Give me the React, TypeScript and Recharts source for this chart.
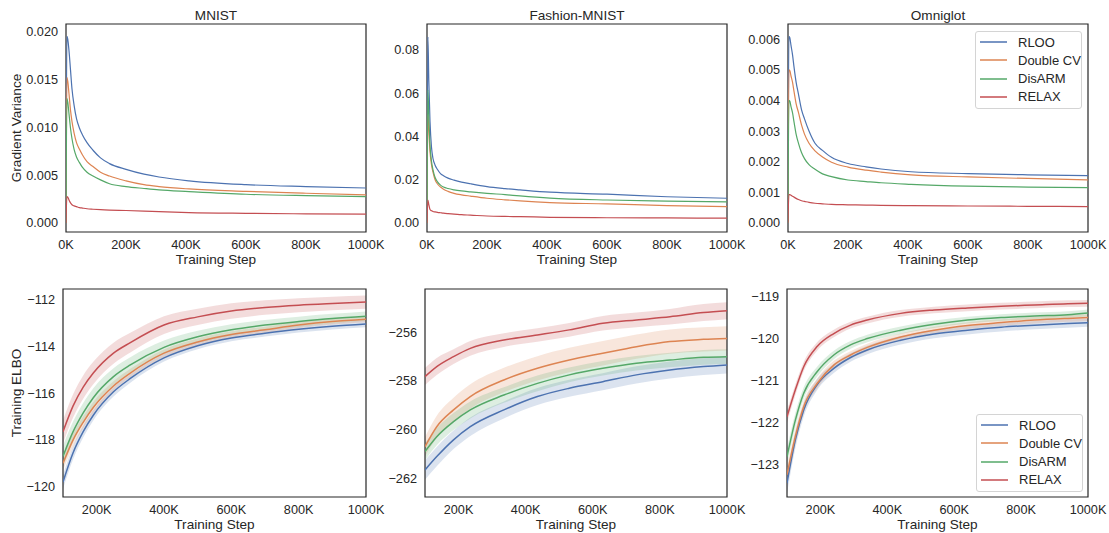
import React from "react";
import { ComposedChart, Line, Area, XAxis, YAxis, ReferenceArea, Legend, Label } from "recharts";

const FONT = '"Liberation Sans", Arial, sans-serif';
const INK = "#262626";

const SERIES = [
  { key: "rloo", name: "RLOO", color: "#4C72B0" },
  { key: "dcv", name: "Double CV", color: "#DD8452" },
  { key: "disarm", name: "DisARM", color: "#55A868" },
  { key: "relax", name: "RELAX", color: "#C44E52" },
];

// ---- gradient variance (top row) ----
const varSteps = [0, 3000, 6000, 10000, 15000, 20000, 27000, 35000, 45000, 55000, 70000, 90000, 115000, 145000, 200000, 260000, 310000, 410000, 600000, 800000, 1000000];

const mnistVarRloo = [0, 0.0195, 0.0192, 0.018, 0.016, 0.014, 0.0123, 0.0109, 0.0099, 0.0092, 0.0084, 0.0076, 0.0068, 0.0062, 0.0056, 0.0051, 0.0048, 0.0044, 0.004, 0.0038, 0.00365];
const mnistVarDcv = [0, 0.0152, 0.0148, 0.0135, 0.0118, 0.0106, 0.0094, 0.0084, 0.0077, 0.0071, 0.0064, 0.0059, 0.0053, 0.0049, 0.0044, 0.004, 0.0038, 0.00355, 0.0033, 0.0031, 0.00293];
const mnistVarDisarm = [0, 0.013, 0.0126, 0.0114, 0.0099, 0.0088, 0.0077, 0.0069, 0.0063, 0.0058, 0.0053, 0.0049, 0.0045, 0.0041, 0.0038, 0.0036, 0.00345, 0.00328, 0.003, 0.00285, 0.00275];
const mnistVarRelax = [0, 0.00275, 0.0027, 0.0024, 0.0021, 0.0019, 0.00178, 0.0017, 0.0016, 0.00155, 0.00148, 0.00143, 0.00138, 0.00134, 0.0013, 0.00124, 0.00118, 0.00108, 0.001, 0.00095, 0.00091];

const fashionVarRloo = [0, 0.086, 0.066, 0.047, 0.035, 0.0298, 0.0267, 0.0247, 0.0228, 0.0218, 0.0207, 0.0198, 0.0189, 0.0181, 0.0168, 0.0159, 0.0153, 0.0142, 0.0133, 0.0121, 0.0114];
const fashionVarDcv = [0, 0.05, 0.043, 0.033, 0.027, 0.0235, 0.02, 0.018, 0.0166, 0.0156, 0.0146, 0.0137, 0.013, 0.0124, 0.0114, 0.0107, 0.0102, 0.0094, 0.0088, 0.008, 0.0075];
const fashionVarDisarm = [0, 0.0615, 0.05, 0.036, 0.0285, 0.0245, 0.021, 0.019, 0.0175, 0.0166, 0.0159, 0.0153, 0.0148, 0.0144, 0.0137, 0.0131, 0.0125, 0.0115, 0.0106, 0.0101, 0.0097];
const fashionVarRelax = [0, 0.0106, 0.0085, 0.0062, 0.0056, 0.0053, 0.0051, 0.0049, 0.0047, 0.0045, 0.0043, 0.0041, 0.0038, 0.0036, 0.0032, 0.003, 0.0029, 0.0026, 0.0024, 0.0023, 0.0022];

const omniVarRloo = [0, 0.0061, 0.00605, 0.0058, 0.0055, 0.0051, 0.0046, 0.0042, 0.0037, 0.0034, 0.003, 0.0026, 0.00237, 0.00214, 0.00194, 0.00183, 0.00176, 0.00167, 0.00161, 0.00157, 0.00154];
const omniVarDcv = [0, 0.005, 0.00498, 0.0048, 0.0046, 0.0043, 0.0039, 0.0036, 0.0032, 0.0029, 0.0026, 0.00235, 0.00215, 0.00198, 0.00182, 0.00172, 0.00166, 0.00157, 0.0015, 0.00145, 0.0014];
const omniVarDisarm = [0, 0.004, 0.00398, 0.0038, 0.0036, 0.0033, 0.0029, 0.0026, 0.0023, 0.0021, 0.0019, 0.00175, 0.0016, 0.00151, 0.0014, 0.00135, 0.00131, 0.00126, 0.0012, 0.00117, 0.00115];
const omniVarRelax = [0, 0.00092, 0.00092, 0.0009, 0.00087, 0.00084, 0.0008, 0.00076, 0.00072, 0.0007, 0.00067, 0.00064, 0.00062, 0.0006, 0.00059, 0.00058, 0.00057, 0.00056, 0.00055, 0.00054, 0.00053];

// ---- training ELBO (bottom row) ----
const mnistElboSteps = [100000, 130000, 160000, 190000, 250000, 300000, 400000, 500000, 600000, 700000, 800000, 900000, 1000000];
const mnistElboRloo = [-119.8, -118.55, -117.65, -116.95, -115.95, -115.38, -114.5, -113.98, -113.65, -113.45, -113.28, -113.15, -113.05];
const mnistElboDcv = [-119.0, -118.0, -117.25, -116.62, -115.7, -115.15, -114.3, -113.82, -113.5, -113.3, -113.1, -112.95, -112.85];
const mnistElboDisarm = [-118.7, -117.65, -116.85, -116.2, -115.3, -114.8, -114.05, -113.6, -113.3, -113.1, -112.95, -112.82, -112.72];
const mnistElboRelax = [-117.65, -116.55, -115.75, -115.15, -114.3, -113.85, -113.1, -112.75, -112.5, -112.35, -112.25, -112.18, -112.12];
const mnistSpreadRloo = [0.3, 0.28, 0.25, 0.22, 0.2, 0.18, 0.16, 0.15, 0.14, 0.14, 0.14, 0.14, 0.14];
const mnistSpreadDcv = [0.3, 0.28, 0.26, 0.24, 0.2, 0.18, 0.16, 0.15, 0.14, 0.13, 0.13, 0.13, 0.13];
const mnistSpreadDisarm = [0.45, 0.43, 0.42, 0.4, 0.36, 0.33, 0.29, 0.26, 0.24, 0.22, 0.21, 0.2, 0.2];
const mnistSpreadRelax = [0.5, 0.5, 0.5, 0.48, 0.45, 0.42, 0.38, 0.35, 0.33, 0.31, 0.3, 0.29, 0.28];

const fashionElboSteps = [100000, 135000, 185000, 235000, 335000, 435000, 530000, 630000, 730000, 830000, 930000, 1000000];
const fashionElboRloo = [-261.66, -261.11, -260.42, -259.88, -259.19, -258.64, -258.3, -258.03, -257.75, -257.55, -257.41, -257.34];
const fashionElboDcv = [-260.7, -259.88, -259.19, -258.64, -257.96, -257.48, -257.14, -256.86, -256.59, -256.38, -256.29, -256.25];
const fashionElboDisarm = [-260.9, -260.29, -259.67, -259.19, -258.58, -258.1, -257.75, -257.48, -257.27, -257.14, -257.03, -257.0];
const fashionElboRelax = [-257.82, -257.41, -257.0, -256.66, -256.32, -256.11, -255.9, -255.63, -255.49, -255.36, -255.19, -255.11];
const fashionSpreadRloo = [0.4, 0.4, 0.38, 0.38, 0.35, 0.35, 0.35, 0.35, 0.35, 0.35, 0.35, 0.35];
const fashionSpreadDcv = [0.4, 0.45, 0.5, 0.5, 0.5, 0.5, 0.5, 0.5, 0.5, 0.5, 0.5, 0.5];
const fashionSpreadDisarm = [0.35, 0.35, 0.35, 0.35, 0.32, 0.32, 0.3, 0.3, 0.3, 0.3, 0.3, 0.3];
const fashionSpreadRelax = [0.35, 0.35, 0.3, 0.3, 0.28, 0.28, 0.28, 0.3, 0.3, 0.32, 0.35, 0.35];

const omniElboSteps = [100000, 125000, 150000, 190000, 240000, 290000, 340000, 440000, 540000, 640000, 740000, 840000, 940000, 1000000];
const omniElboRloo = [-123.45, -122.42, -121.71, -121.11, -120.72, -120.46, -120.28, -120.05, -119.9, -119.81, -119.74, -119.69, -119.65, -119.63];
const omniElboDcv = [-123.25, -122.34, -121.63, -121.08, -120.64, -120.4, -120.22, -119.97, -119.81, -119.7, -119.63, -119.57, -119.53, -119.51];
const omniElboDisarm = [-122.82, -121.95, -121.31, -120.8, -120.4, -120.16, -120.01, -119.81, -119.67, -119.57, -119.51, -119.47, -119.44, -119.4];
const omniElboRelax = [-121.87, -121.23, -120.68, -120.2, -119.89, -119.69, -119.57, -119.41, -119.33, -119.28, -119.24, -119.21, -119.18, -119.17];
const omniSpreadRloo = [0.25, 0.2, 0.16, 0.13, 0.11, 0.1, 0.1, 0.1, 0.1, 0.1, 0.1, 0.1, 0.1, 0.1];
const omniSpreadDcv = [0.2, 0.17, 0.14, 0.12, 0.1, 0.09, 0.09, 0.08, 0.08, 0.08, 0.08, 0.08, 0.08, 0.08];
const omniSpreadDisarm = [0.2, 0.17, 0.14, 0.12, 0.1, 0.09, 0.09, 0.09, 0.09, 0.08, 0.08, 0.08, 0.08, 0.08];
const omniSpreadRelax = [0.15, 0.13, 0.11, 0.1, 0.09, 0.08, 0.08, 0.08, 0.08, 0.08, 0.08, 0.08, 0.08, 0.08];

// axis ticks
const varXTicks = [0, 200000, 400000, 600000, 800000, 1000000];
const elboXTicks = [200000, 400000, 600000, 800000, 1000000];
const mnistVarTicks = [0, 0.005, 0.01, 0.015, 0.02];
const fashionVarTicks = [0, 0.02, 0.04, 0.06, 0.08];
const omniVarTicks = [0, 0.001, 0.002, 0.003, 0.004, 0.005, 0.006];
const mnistElboTicks = [-120, -118, -116, -114, -112];
const fashionElboTicks = [-262, -260, -258, -256];
const omniElboTicks = [-123, -122, -121, -120, -119];

type Vals = Record<string, number[]>;

function buildRows(steps: number[], vals: Vals, spread?: Vals) {
  return steps.map((step, i) => {
    const row: any = { step };
    SERIES.forEach((s) => {
      const v = vals[s.key][i];
      row[s.key] = v;
      if (spread) row[s.key + "Band"] = [v - spread[s.key][i], v + spread[s.key][i]];
    });
    return row;
  });
}

const fmtK = (v: number) => `${Math.round(v / 1000)}K`;
const fmtMinus = (v: number) => (v < 0 ? `\u2212${Math.abs(v)}` : `${v}`);

function LegendBox() {
  return (
    <div
      style={{
        position: "relative",
        zIndex: 5,
        border: "1px solid #d4d4d4",
        borderRadius: 3,
        background: "#fff",
        padding: "1px 0 2px 0",
        width: 107,
        boxSizing: "border-box",
        fontFamily: FONT,
      }}
    >
      {SERIES.map((s) => (
        <div key={s.key} style={{ display: "flex", alignItems: "center", height: 18.25 }}>
          <svg width={27} height={6} style={{ marginLeft: 4, marginRight: 11, flex: "none", display: "block" }}>
            <line x1={0} y1={3} x2={27} y2={3} stroke={s.color} strokeWidth={1.5} />
          </svg>
          <span style={{ fontSize: 13, color: INK, lineHeight: 1 }}>{s.name}</span>
        </div>
      ))}
    </div>
  );
}

interface PanelProps {
  plotLeft: number;
  plotTop: number;
  plotW: number;
  yw: number;
  rows: any[];
  xDomain: [number, number];
  xTicks: number[];
  yDomain: [number, number];
  yTicks: number[];
  yFmt: (v: number) => string;
  yLabel?: string;
  title?: string;
  legendAt?: { left: number; top: number };
  bands?: boolean;
}

const PLOT_H = 208;
const M_TOP = 30;
const M_RIGHT = 25;
const X_H = 35;

function Panel(p: PanelProps) {
  const width = p.yw + p.plotW + M_RIGHT;
  const height = M_TOP + PLOT_H + X_H;
  const lw = p.bands ? 1.5 : 1.2;
  return (
    <>
      {p.title && (
        <div
          style={{
            position: "absolute",
            left: p.plotLeft,
            width: p.plotW,
            top: 9,
            textAlign: "center",
            fontSize: 13.6,
            lineHeight: 1,
            color: INK,
          }}
        >
          {p.title}
        </div>
      )}
      <div style={{ position: "absolute", left: p.plotLeft - p.yw, top: p.plotTop - M_TOP }}>
        <ComposedChart width={width} height={height} data={p.rows} margin={{ top: M_TOP, right: M_RIGHT, bottom: 0, left: 0 }}>
          <XAxis
            dataKey="step"
            type="number"
            domain={p.xDomain}
            ticks={p.xTicks}
            interval={0}
            allowDataOverflow
            axisLine={false}
            tickLine={false}
            height={X_H}
            tick={{ fontSize: 12.7, fill: INK }}
            tickFormatter={fmtK}
          >
            <Label value="Training Step" position="insideBottom" offset={3} fontSize={13.6} fill={INK} />
          </XAxis>
          <YAxis
            type="number"
            domain={p.yDomain}
            ticks={p.yTicks}
            interval={0}
            allowDataOverflow
            axisLine={false}
            tickLine={false}
            width={p.yw}
            tick={{ fontSize: 12.7, fill: INK }}
            tickFormatter={p.yFmt}
          >
            {p.yLabel && <Label value={p.yLabel} angle={-90} position="center" fontSize={13.6} fill={INK} />}
          </YAxis>
          {p.bands &&
            SERIES.map((s) => (
              <Area
                key={s.key + "Band"}
                dataKey={s.key + "Band"}
                type="monotone"
                stroke="none"
                fill={s.color}
                fillOpacity={0.2}
                isAnimationActive={false}
                legendType="none"
              />
            ))}
          {SERIES.map((s) => (
            <Line
              key={s.key}
              dataKey={s.key}
              name={s.name}
              type="monotone"
              stroke={s.color}
              strokeWidth={lw}
              dot={false}
              isAnimationActive={false}
            />
          ))}
          <ReferenceArea
            x1={p.xDomain[0]}
            x2={p.xDomain[1]}
            y1={p.yDomain[0]}
            y2={p.yDomain[1]}
            fill="none"
            fillOpacity={0}
            stroke={INK}
            strokeWidth={1.2}
            ifOverflow="visible"
          />
          {p.legendAt && (
            <Legend
              layout="horizontal"
              align="center"
              verticalAlign="middle"
              wrapperStyle={{
                left: p.legendAt.left - (p.plotLeft - p.yw),
                top: p.legendAt.top - (p.plotTop - M_TOP),
                width: 107,
                zIndex: 5,
              }}
              content={() => <LegendBox />}
            />
          )}
        </ComposedChart>
      </div>
    </>
  );
}

const mnistVarRows = buildRows(varSteps, { rloo: mnistVarRloo, dcv: mnistVarDcv, disarm: mnistVarDisarm, relax: mnistVarRelax });
const fashionVarRows = buildRows(varSteps, { rloo: fashionVarRloo, dcv: fashionVarDcv, disarm: fashionVarDisarm, relax: fashionVarRelax });
const omniVarRows = buildRows(varSteps, { rloo: omniVarRloo, dcv: omniVarDcv, disarm: omniVarDisarm, relax: omniVarRelax });

const mnistElboRows = buildRows(
  mnistElboSteps,
  { rloo: mnistElboRloo, dcv: mnistElboDcv, disarm: mnistElboDisarm, relax: mnistElboRelax },
  { rloo: mnistSpreadRloo, dcv: mnistSpreadDcv, disarm: mnistSpreadDisarm, relax: mnistSpreadRelax }
);
const fashionElboRows = buildRows(
  fashionElboSteps,
  { rloo: fashionElboRloo, dcv: fashionElboDcv, disarm: fashionElboDisarm, relax: fashionElboRelax },
  { rloo: fashionSpreadRloo, dcv: fashionSpreadDcv, disarm: fashionSpreadDisarm, relax: fashionSpreadRelax }
);
const omniElboRows = buildRows(
  omniElboSteps,
  { rloo: omniElboRloo, dcv: omniElboDcv, disarm: omniElboDisarm, relax: omniElboRelax },
  { rloo: omniSpreadRloo, dcv: omniSpreadDcv, disarm: omniSpreadDisarm, relax: omniSpreadRelax }
);

export default function App() {
  return (
    <div style={{ position: "absolute", left: 0, top: 0, width: 1109, height: 533, fontFamily: FONT, background: "#fff" }}>
      <Panel
        title="MNIST"
        plotLeft={66}
        plotTop={24}
        plotW={300}
        yw={99}
        rows={mnistVarRows}
        xDomain={[0, 1000000]}
        xTicks={varXTicks}
        yDomain={[-0.00095, 0.0208]}
        yTicks={mnistVarTicks}
        yFmt={(v) => v.toFixed(3)}
        yLabel="Gradient Variance"
      />
      <Panel
        title="Fashion-MNIST"
        plotLeft={427}
        plotTop={24}
        plotW={300}
        yw={60}
        rows={fashionVarRows}
        xDomain={[0, 1000000]}
        xTicks={varXTicks}
        yDomain={[-0.0042, 0.092]}
        yTicks={fashionVarTicks}
        yFmt={(v) => v.toFixed(2)}
      />
      <Panel
        title="Omniglot"
        plotLeft={788}
        plotTop={24}
        plotW={300}
        yw={60}
        rows={omniVarRows}
        xDomain={[0, 1000000]}
        xTicks={varXTicks}
        yDomain={[-0.0003, 0.0065]}
        yTicks={omniVarTicks}
        yFmt={(v) => v.toFixed(3)}
        legendAt={{ left: 975, top: 31 }}
      />
      <Panel
        plotLeft={63}
        plotTop={289}
        plotW={303}
        yw={93}
        rows={mnistElboRows}
        xDomain={[100000, 1000000]}
        xTicks={elboXTicks}
        yDomain={[-120.44, -111.56]}
        yTicks={mnistElboTicks}
        yFmt={fmtMinus}
        yLabel="Training ELBO"
        bands
      />
      <Panel
        plotLeft={425}
        plotTop={289}
        plotW={302}
        yw={60}
        rows={fashionElboRows}
        xDomain={[100000, 1000000]}
        xTicks={elboXTicks}
        yDomain={[-262.77, -254.22]}
        yTicks={fashionElboTicks}
        yFmt={fmtMinus}
        bands
      />
      <Panel
        plotLeft={787}
        plotTop={289}
        plotW={301}
        yw={60}
        rows={omniElboRows}
        xDomain={[100000, 1000000]}
        xTicks={elboXTicks}
        yDomain={[-123.78, -118.83]}
        yTicks={omniElboTicks}
        yFmt={fmtMinus}
        legendAt={{ left: 976, top: 414 }}
        bands
      />
    </div>
  );
}
